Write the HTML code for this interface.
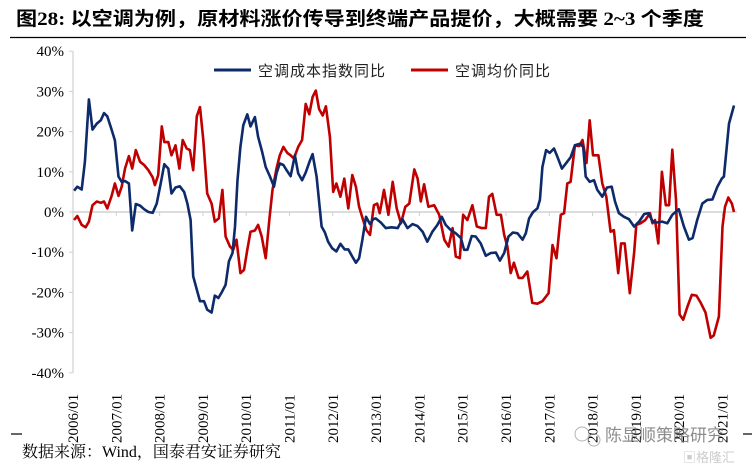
<!DOCTYPE html>
<html><head><meta charset="utf-8">
<style>
body{margin:0;background:#fff;}
svg text{font-family:"Liberation Serif","Noto Serif CJK SC",serif;}
</style></head>
<body>
<svg id="chart" width="756" height="469" xmlns="http://www.w3.org/2000/svg">
<text x="16" y="25" font-size="19" font-weight="bold" fill="#000" style='font-family:"Liberation Serif","Noto Sans CJK SC",serif' textLength="688" lengthAdjust="spacingAndGlyphs">图28: 以空调为例，原材料涨价传导到终端产品提价，大概需要 2~3 个季度</text>
<line x1="10" y1="37.5" x2="746" y2="37.5" stroke="#000" stroke-width="1.3"/>
<g id="axes"></g>
<g id="series"></g>
<g>
<line x1="214" y1="70" x2="251" y2="70" stroke="#0d2a6b" stroke-width="3"/>
<text x="258" y="76" font-size="15" fill="#222" style='font-family:"Noto Sans CJK SC",sans-serif' letter-spacing="1">空调成本指数同比</text>
<line x1="411" y1="70" x2="448" y2="70" stroke="#c00000" stroke-width="3"/>
<text x="455" y="76" font-size="15" fill="#222" style='font-family:"Noto Sans CJK SC",sans-serif' letter-spacing="1">空调均价同比</text>
</g>
<line x1="11" y1="434" x2="22" y2="434" stroke="#000" stroke-width="1.2"/>
<line x1="743" y1="434" x2="752" y2="434" stroke="#000" stroke-width="1.2"/>
<text x="22" y="457" font-size="16" fill="#000" style='font-family:"Liberation Serif","Noto Serif CJK SC",serif'>数据来源：Wind，国泰君安证券研究</text>
<g opacity="0.75">
<circle cx="582" cy="434" r="7" fill="none" stroke="#999" stroke-width="1"/>
<circle cx="594" cy="440" r="6" fill="none" stroke="#999" stroke-width="1"/>
<text x="605" y="441" font-size="17" fill="#666" style='font-family:"Noto Sans CJK SC",sans-serif'>陈显顺策略研究</text>
<text x="683" y="462" font-size="13" fill="#bbb" style='font-family:"Noto Sans CJK SC",sans-serif'>▣格隆汇</text>
</g>
</svg>
<script>
const yTicks=[40,30,20,10,0,-10,-20,-30,-40];
const yearLabels=["2006/01","2007/01","2008/01","2009/01","2010/01","2011/01","2012/01","2013/01","2014/01","2015/01","2016/01","2017/01","2018/01","2019/01","2020/01","2021/01"];
const costMonths=[0.3,1.2,2.4,3.3,4.4,5.4,6.6,7.7,8.6,9.5,10.7,11.6,12.6,13.5,14.4,15.5,16.4,17.4,18.6,19.7,20.9,22.1,23.2,24.3,25.3,26.4,27.3,28.4,29.6,30.8,31.7,32.6,33.3,34.3,35.2,36.3,37.2,38.4,39.3,40.3,41.2,42.3,43.2,44.2,44.9,45.6,46.4,47.2,48.3,49.2,50.4,51.3,52.3,53.4,54.6,55.7,56.4,57.3,58.3,59.2,60.3,61.5,62.4,63.5,64.5,65.7,66.4,67.5,68.9,69.8,70.7,71.8,73.0,74.1,75.3,76.3,77.4,78.4,79.3,80.2,81.2,82.3,83.2,83.9,85.3,86.7,88.3,90.0,91.3,92.7,94.1,95.5,96.9,98.2,99.6,101.0,102.2,103.3,104.7,106.1,107.5,108.4,109.3,110.5,111.6,113.0,114.4,115.8,117.2,118.3,119.5,120.7,121.9,123.2,124.6,125.5,126.4,127.5,128.7,129.4,130.1,131.1,132.1,133.3,134.3,135.5,136.6,137.9,139.1,140.5,141.4,142.1,143.2,144.4,145.3,146.7,148.0,149.3,150.2,151.3,152.7,154.1,155.5,156.9,158.3,159.5,160.6,161.9,163.3,164.7,166.1,167.9,169.3,170.7,171.7,173.0,174.4,175.8,177.2,178.6,179.8,180.4,181.8,183.2];
const costValues=[5.3,6.3,5.6,12.5,28,20.5,22,22.8,24.6,23.8,20.5,17.8,8.8,7.5,7.7,7.1,-4.6,2,1.6,0.7,0,-0.2,2.1,7.1,11.9,10.8,4.6,6.1,6.4,5,2.1,-2,-16,-19.3,-22.2,-22.2,-24.3,-25,-20.8,-21.4,-20,-18.1,-12.3,-10.2,-3.6,7.9,16.2,21.6,24.3,21.3,23.6,18.7,15.4,11.2,8.8,6.3,9.6,12.1,11.7,10.4,8.9,14.1,9.6,7.9,9.8,12.9,14.4,8.8,-3.6,-5.1,-7.4,-9,-9.8,-7.9,-9.3,-9.3,-11.1,-12.6,-11.5,-6.9,-1.2,-3,-1.8,-1.6,-2.6,-4,-3.8,-4,-1.8,-4,-3,-3.5,-4.9,-7.4,-4.9,-3.2,-1.2,-3.2,-4.5,-5.3,-6.5,-9.4,-9.4,-6,-6.1,-7.8,-10.9,-10.2,-10.1,-12.1,-10.2,-6.1,-5.1,-5.3,-6.9,-5.3,-1.6,0,0.9,3,11.2,15.4,14.7,15.8,13.6,10.8,12.1,13.6,16.6,17,16.2,8.8,7.5,7.9,5.5,3.8,6.1,6.3,2.6,-0.3,-1.2,-1.8,-3.6,-2.4,-0.5,-0.3,-2.4,-2.6,-2.4,-2.8,-0.7,0.7,-3.6,-6.9,-6.5,-2,2.1,3,3.1,6.3,8.3,8.8,22,26.5];
const priceMonths=[0.3,1.2,2.4,3.5,4.4,5.4,6.6,7.7,8.6,9.5,10.7,11.6,12.6,13.5,14.4,15.5,16.4,17.4,18.6,19.7,20.9,22.1,22.7,23.6,24.6,25.3,26.4,27.3,28.4,29.5,30.4,31.5,32.4,33.3,34.3,35.2,36.1,37.2,38.4,39.3,40.4,41.4,42.3,43.5,44.4,45.3,46.4,47.4,48.3,49.2,50.4,51.3,52.3,53.4,54.4,55.3,56.4,57.3,58.3,59.4,60.3,61.2,62.4,63.5,64.5,65.5,66.4,67.3,68.2,69.2,70.1,71.2,72.1,73.0,74.1,75.2,76.3,77.4,78.4,79.3,80.4,81.3,82.3,83.4,84.3,85.0,86.2,87.4,88.6,89.7,90.9,92.1,93.2,94.6,95.5,96.4,97.3,98.5,100.1,101.5,102.9,104.1,105.2,106.1,107.2,108.1,109.3,110.7,111.9,113.3,114.4,115.3,116.2,117.4,118.6,119.5,120.4,121.3,122.2,123.5,124.6,125.9,127.3,128.7,130.1,131.8,132.9,134.0,135.2,136.1,137.0,137.9,139.1,140.3,141.2,142.3,143.2,144.1,145.6,146.7,147.8,149.0,149.9,151.1,151.9,152.9,154.3,155.5,156.1,157.3,158.6,159.9,160.6,161.3,162.2,163.2,164.3,165.2,166.1,167.1,168.1,169.1,170.3,171.5,172.8,174.0,175.3,176.7,177.6,179.0,180.0,180.7,181.6,182.6,183.2];
const priceValues=[-2,-1,-3.2,-3.8,-2.4,1.7,2.6,2.3,2.6,0.9,4,7.1,4,6.3,10.8,13.9,10.8,15.4,12.5,11.7,10.4,8.6,6.7,9.2,21.3,17.4,17.4,14.1,16.6,10.8,17.9,15.8,15.4,10.4,23.8,26.1,17.9,4.6,2.1,-2.4,-1.6,5.5,-6.1,-8.6,-9.4,-6.9,-15.2,-14.4,-9.4,-4.9,-4.6,-3.2,-6.1,-11.5,-2,5.5,10.8,14.1,16.2,14.7,14.1,13.3,16.2,17.9,26.9,24.3,28.6,30.2,25.6,24,26.3,18.7,5,7.1,3.8,8.3,0.9,9.2,6.3,1.3,-2,-4.5,-5.7,1.7,2.1,-0.3,5.5,-0.7,7.5,0.9,-2.8,1.3,2.1,10.6,8.3,2.6,6.9,1.3,1.7,-0.7,-6.9,-8.6,-4,-11.1,-11.5,-0.7,-2,1.7,-3.6,-4,-4,3.8,4.5,-0.7,-0.7,-5.7,-8.6,-15.2,-12.6,-16.4,-16.4,-14.8,-22.6,-22.8,-22.2,-20.2,-8.2,-11.5,-0.7,-0.3,7.1,7.5,16.6,16.4,17.9,12.2,22.8,14.1,14.1,7.1,3.8,-4.9,-4.5,-15.2,-7.8,-7.8,-20.2,-10.2,-3.2,-2.8,-2,-0.3,-2.8,-2,-7.8,10,1.7,1.7,15.5,3,-25.5,-26.8,-23.5,-20.6,-20.8,-22.6,-25,-31.3,-30.7,-26,-3.6,1.3,3.6,2.1,0];

const NS="http://www.w3.org/2000/svg";
const X0=73, MONTH=43.3/12, Y0=212, PER=4.02;
function xPos(m){return X0+m*MONTH;}
function yPos(v){return Y0-v*PER;}
const axes=document.getElementById('axes');
const series=document.getElementById('series');
function mk(tag,attrs,parent){const e=document.createElementNS(NS,tag);for(const k in attrs)e.setAttribute(k,attrs[k]);parent.appendChild(e);return e;}

const yAxis=mk('line',{x1:X0,y1:yPos(40),x2:X0,y2:yPos(-40),stroke:'#d0d0d0','stroke-width':1.2},axes);


yTicks.forEach(t=>{
  const tk=mk('line',{x1:X0-4,y1:yPos(t),x2:X0,y2:yPos(t),stroke:'#d0d0d0','stroke-width':1},axes);
  
  
  const lb=mk('text',{x:X0-9,y:yPos(t)+5,'font-size':15,'text-anchor':'end',fill:'#000'},axes);
  lb.textContent=t+'%';
  
  
});
const zero=mk('line',{x1:X0,y1:Y0,x2:xPos(184),y2:Y0,stroke:'#d0d0d0','stroke-width':1.5},axes);


yearLabels.forEach((s,i)=>{
  const x=xPos(i*12);
  const tk=mk('line',{x1:x,y1:Y0,x2:x,y2:Y0+4,stroke:'#d0d0d0','stroke-width':1},axes);
  
  
  const lb=mk('text',{x:0,y:0,'font-size':15,fill:'#000',transform:`translate(${x+5},443) rotate(-90)`},axes);
  lb.textContent=s;
  
  
});
function path(ms,vs){return ms.map((m,i)=>(i?'L':'M')+xPos(m).toFixed(1)+' '+yPos(vs[i]).toFixed(1)).join(' ');}
const pr=mk('path',{d:path(priceMonths,priceValues),fill:'none',stroke:'#c00000','stroke-width':2.6,'stroke-linejoin':'round'},series);


const co=mk('path',{d:path(costMonths,costValues),fill:'none',stroke:'#0d2a6b','stroke-width':2.6,'stroke-linejoin':'round'},series);


</script>
</body></html>
